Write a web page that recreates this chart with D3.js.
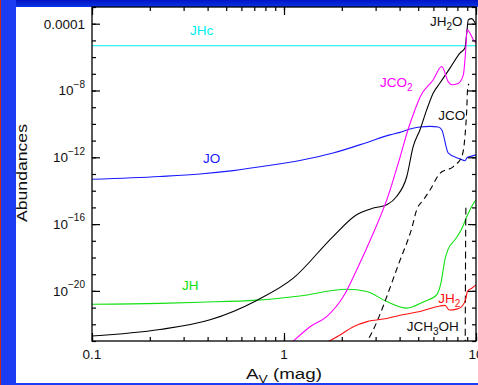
<!DOCTYPE html>
<html><head><meta charset="utf-8">
<script src="https://cdn.jsdelivr.net/npm/d3@7"></script>
<style>html,body{margin:0;padding:0;background:#fff;overflow:hidden}text{font-family:"Liberation Sans",Arial,Helvetica,sans-serif;fill:#111}</style>
</head><body><svg id="c" width="478" height="385"></svg>
<script>
// ---- data (Av in mag, fractional abundances) ----
const avJHc = [0.1, 10];
const abJHc = [4.8e-6, 4.8e-6];

const avJO = [0.1, 0.226, 0.365, 0.543, 0.815, 1.21, 1.80, 2.71, 3.56, 4.02, 4.53, 5.11, 5.76, 6.36, 6.63, 7.17, 8.25, 8.76, 9.01, 9.30, 10];
const abJO = [4.8e-14, 7.1e-14, 1.0e-13, 1.6e-13, 3.1e-13, 6.5e-13, 1.8e-12, 7.8e-12, 2.2e-11, 3.1e-11, 4.9e-11, 6.5e-11, 7.1e-11, 6.5e-11, 4.5e-11, 1.8e-12, 8.1e-13, 6.2e-13, 9.8e-13, 1.1e-12, 1.4e-12];

const avJH = [0.1, 0.226, 0.365, 0.721, 1.21, 2.12, 2.70, 3.43, 4.36, 5.32, 6.24, 6.57, 6.90, 7.17, 7.77, 8.43, 8.95, 9.68, 10];
const abJH = [1.6e-21, 1.8e-21, 2.1e-21, 2.8e-21, 5.0e-21, 1.26e-20, 9.1e-21, 2.3e-21, 9.3e-22, 2.2e-21, 5.8e-21, 3.0e-20, 8.3e-19, 3.3e-18, 1.15e-17, 5.2e-17, 2.75e-16, 1.66e-15, 2.8e-15];

const avJH2O = [0.1, 0.226, 0.412, 0.721, 1.118, 1.80, 2.39, 2.92, 3.43, 3.86, 4.36, 4.71, 5.11, 5.54, 5.99, 6.49, 7.32, 8.25, 8.76, 8.95, 9.12, 9.50, 9.82, 10];
const abJH2O = [2.0e-23, 4.9e-23, 1.86e-22, 2.7e-21, 5.8e-20, 1.8e-17, 3.6e-16, 9.1e-16, 1.45e-15, 4.5e-15, 7.1e-14, 4.5e-12, 4.5e-11, 7.1e-10, 7.1e-9, 2.8e-8, 2.2e-7, 1.74e-6, 3.5e-6, 2.75e-5, 1.74e-4, 2.0e-4, 1.3e-4, 8.7e-5];

const avJCO = [2.6, 2.71, 4.02, 4.63, 4.91, 5.32, 5.76, 6.49, 7.62, 8.43, 8.76, 8.95, 9.05, 9.19];
const abJCO = [5e-24, 1e-23, 6.8e-19, 5.8e-17, 7.2e-16, 2.8e-15, 1.1e-14, 1.1e-13, 2.8e-13, 1.1e-12, 1.8e-11, 7.1e-10, 1.5e-8, 2.5e-8];

const avJCH3OH = [8.78, 8.80, 8.83, 8.86];
const abJCH3OH = [1e-24, 1e-21, 1e-17, 1.4e-15];

const avJCO2 = [1.074, 1.14, 1.366, 1.669, 2.037, 2.39, 2.92, 3.43, 4.02, 4.44, 4.81, 5.11, 5.99, 6.63, 7.17, 7.50, 8.06, 8.59, 8.84, 8.98, 9.30, 9.68, 10];
const abJCO2 = [6.3e-24, 1.2e-23, 7.2e-23, 2.9e-22, 4.6e-21, 1.8e-19, 2.9e-17, 2.8e-15, 1.0e-12, 5.1e-11, 7.1e-10, 4.0e-9, 4.4e-8, 2.75e-7, 3.3e-8, 2.2e-8, 2.6e-8, 8.7e-8, 2.75e-6, 4.4e-5, 2.75e-5, 1.1e-5, 6.9e-6];

const avJH2 = [1.635, 1.96, 2.296, 2.71, 3.43, 4.02, 5.11, 6.49, 6.90, 7.26, 7.93, 8.43, 8.87, 9.01, 9.50, 10];
const abJH2 = [7.2e-24, 2.3e-23, 7.2e-23, 1.45e-22, 2.2e-22, 3.5e-22, 5.8e-22, 1.26e-21, 1.35e-21, 7.2e-22, 8.1e-22, 1.15e-21, 3.7e-21, 9.1e-21, 1.45e-20, 2.3e-20];

const xTickVals = [0.1, 1, 10];
const xTickLabels = ["0.1", "1", "10"];
const yTickVals = [1e-4, 1e-8, 1e-12, 1e-16, 1e-20];
const yTickLabels = [["0.0001", ""], ["10", "\u22128"], ["10", "\u221212"], ["10", "\u221216"], ["10", "\u221220"]];

// ---- series table ----
const series = [
  {name: "JHc", av: avJHc, ab: abJHc, color: "#00f0f0", dash: null, lab: [[0.324, 2.2e-5, "JHc"]]},
  {name: "JO", av: avJO, ab: abJO, color: "#1a1aff", dash: null, lab: [[0.378, 4.7e-13, "JO"]]},
  {name: "JH", av: avJH, ab: abJH, color: "#10e010", dash: null, lab: [[0.294, 1.15e-20, "JH"]]},
  {name: "JH2O", av: avJH2O, ab: abJH2O, color: "#000", dash: null, lab: [[5.76, 6.9e-5, "JH", "2", "O"]]},
  {name: "JCO", av: avJCO, ab: abJCO, color: "#000", dash: "6,4", lab: [[6.36, 1.8e-10, "JCO"]]},
  {name: "JCH3OH", av: avJCH3OH, ab: abJCH3OH, color: "#000", dash: "7,4", lab: [[4.36, 4.1e-23, "JCH", "3", "OH"]]},
  {name: "JCO2", av: avJCO2, ab: abJCO2, color: "#ff00ff", dash: null, lab: [[3.16, 1.6e-8, "JCO", "2", ""]]},
  {name: "JH2", av: avJH2, ab: abJH2, color: "#ff1010", dash: null, lab: [[6.36, 2.0e-21, "JH", "2", ""]]}
];

const W = 478, H = 385;
const L = 92, R = 476, T = 7, B = 341;
const svg = d3.select("#c");

// background frame
svg.append("rect").attr("x", 0).attr("y", 0).attr("width", W).attr("height", H).attr("fill", "#fff");
const g0 = svg.append("defs").append("linearGradient").attr("id", "topg").attr("x1", 0).attr("y1", 0).attr("x2", 0).attr("y2", 1);
g0.append("stop").attr("offset", "0").attr("stop-color", "#0014c4");
g0.append("stop").attr("offset", "1").attr("stop-color", "#0a34e6");
svg.append("rect").attr("x", 0).attr("y", 0).attr("width", W).attr("height", 7).attr("fill", "url(#topg)");
svg.append("rect").attr("x", 0).attr("y", 0).attr("width", 16).attr("height", H).attr("fill", "#1a3cf2");
svg.append("rect").attr("x", 0).attr("y", 0).attr("width", 1).attr("height", H).attr("fill", "#c8281e");
svg.append("rect").attr("x", 16).attr("y", 383).attr("width", W - 16).attr("height", 2).attr("fill", "#1a3cf2");

const x = d3.scaleLog().domain([0.1, 10]).range([L, R]);
const y = d3.scaleLog().domain([1e-23, 1e-3]).range([B, T]);

svg.append("defs").append("clipPath").attr("id", "clip")
  .append("rect").attr("x", L).attr("y", T).attr("width", R - L).attr("height", B - T);

const plot = svg.append("g").attr("clip-path", "url(#clip)");
const line = d3.line().x(d => x(d[0])).y(d => y(d[1])).curve(d3.curveMonotoneX);
series.forEach(s => {
  const pts = s.av.map((a, i) => [a, s.ab[i]]);
  plot.append("path").attr("d", line(pts)).attr("fill", "none")
    .attr("stroke", s.color).attr("stroke-width", 1.1)
    .attr("stroke-dasharray", s.dash);
});

// ticks
const minorX = [];
for (let d = 0.1; d < 10; d *= 10) for (let k = 1; k < 10; k++) minorX.push(+(d * k).toPrecision(3));
minorX.push(10);
const decY = d3.range(-23, -2).map(e => Math.pow(10, e));

function tk(axis, tr) {
  const g = svg.append("g").attr("transform", tr).call(axis);
  g.select(".domain").remove();
  g.selectAll("line").attr("stroke", "#000").attr("stroke-width", 1.2);
  return g;
}
tk(d3.axisBottom(x).tickValues(minorX).tickSize(-4).tickFormat(""), `translate(0,${B})`);
tk(d3.axisBottom(x).tickValues(xTickVals).tickSize(-8).tickFormat(""), `translate(0,${B})`);
tk(d3.axisTop(x).tickValues(minorX).tickSize(-4).tickFormat(""), `translate(0,${T})`);
tk(d3.axisTop(x).tickValues(xTickVals).tickSize(-8).tickFormat(""), `translate(0,${T})`);
tk(d3.axisLeft(y).tickValues(decY).tickSize(-4).tickFormat(""), `translate(${L},0)`);
tk(d3.axisLeft(y).tickValues(yTickVals).tickSize(-8).tickFormat(""), `translate(${L},0)`);
tk(d3.axisRight(y).tickValues(decY).tickSize(-4).tickFormat(""), `translate(${R},0)`);
tk(d3.axisRight(y).tickValues(yTickVals).tickSize(-8).tickFormat(""), `translate(${R},0)`);

svg.append("rect").attr("x", L).attr("y", T).attr("width", R - L).attr("height", B - T)
  .attr("fill", "none").attr("stroke", "#000").attr("stroke-width", 1.3);

// tick labels
xTickVals.forEach((v, i) => {
  svg.append("text").attr("x", x(v)).attr("y", 359).attr("text-anchor", "middle")
    .attr("font-size", 13.5).text(xTickLabels[i]);
});
yTickVals.forEach((v, i) => {
  const t = svg.append("text").attr("x", 85).attr("y", y(v) + 4.8).attr("text-anchor", "end").attr("font-size", 13.5);
  t.append("tspan").text(yTickLabels[i][0]);
  if (yTickLabels[i][1]) t.append("tspan").attr("dy", -7.5).attr("font-size", 10).text(yTickLabels[i][1]);
});

// axis titles
const yt = svg.append("text").attr("font-size", 15).attr("text-anchor", "middle").text("Abundances");
const ytw = yt.node().getComputedTextLength();
yt.attr("transform", `translate(27,173) rotate(-90) scale(${98 / ytw},1)`);

const xt = svg.append("text").attr("font-size", 15).attr("text-anchor", "middle");
xt.append("tspan").text("A");
xt.append("tspan").attr("dy", 4).attr("font-size", 11).text("V");
xt.append("tspan").attr("dy", -4).text(" (mag)");
const xtw = xt.node().getComputedTextLength();
xt.attr("transform", `translate(284,379) scale(${76 / xtw},1)`);

// series labels
series.forEach(s => s.lab.forEach(l => {
  const t = svg.append("text").attr("x", x(l[0])).attr("y", y(l[1])).attr("font-size", 13.5).style("fill", s.color === "#000" ? "#111" : s.color);
  t.append("tspan").text(l[2]);
  if (l[3]) {
    t.append("tspan").attr("dy", 4).attr("font-size", 10).text(l[3]);
    if (l[4]) t.append("tspan").attr("dy", -4).text(l[4]);
  }
}));
</script></body></html>
